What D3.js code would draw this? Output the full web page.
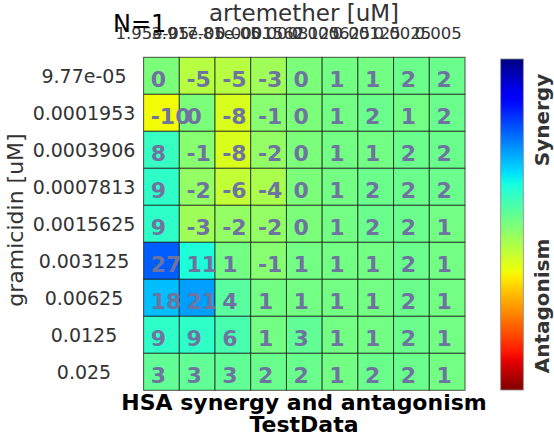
<!DOCTYPE html>
<html><head><meta charset="utf-8">
<script src="https://cdn.jsdelivr.net/npm/d3@7"></script>
<style>body{margin:0;background:#fff}svg{display:block}text{font-family:"DejaVu Sans",sans-serif}</style>
</head><body><svg id="c" width="554" height="437"></svg>
<script>
const artemether = ["1.95e-05","3.91e-05","7.81e-05","0.0001562","0.0003125","0.000625","0.00125","0.0025","0.005"];
const gramicidin = ["9.77e-05","0.0001953","0.0003906","0.0007813","0.0015625","0.003125","0.00625","0.0125","0.025"];
const row1 = [0,-5,-5,-3,0,1,1,2,2];
const row2 = [-10,0,-8,-1,0,1,2,1,2];
const row3 = [8,-1,-8,-2,0,1,1,2,2];
const row4 = [9,-2,-6,-4,0,1,2,2,2];
const row5 = [9,-3,-2,-2,0,1,2,2,1];
const row6 = [27,11,1,-1,1,1,1,2,1];
const row7 = [18,21,4,1,1,1,1,2,1];
const row8 = [9,9,6,1,3,1,1,2,1];
const row9 = [3,3,3,2,2,1,2,2,1];
const rows = [row1,row2,row3,row4,row5,row6,row7,row8,row9];

const svg = d3.select("#c");
const x = d3.scaleBand().domain(artemether).range([143.6, 465]);
const y = d3.scaleBand().domain(gramicidin).range([57.3, 390.3]);

// matplotlib jet
const R = d3.scaleLinear().domain([0,0.35,0.66,0.89,1]).range([0,0,1,1,0.5]).clamp(true);
const G = d3.scaleLinear().domain([0,0.125,0.375,0.64,0.91,1]).range([0,0,1,1,0,0]).clamp(true);
const B = d3.scaleLinear().domain([0,0.11,0.34,0.65,1]).range([0.5,1,1,0,0]).clamp(true);
const jet = t => d3.rgb(R(t)*255, G(t)*255, B(t)*255).toString();
const tScale = d3.scaleLinear().domain([-35, 0, 47.6]).range([1, 0.5, 0]).clamp(true);
const color = v => jet(tScale(v));

const cells = [];
rows.forEach((r,i)=>r.forEach((v,j)=>cells.push({g:gramicidin[i], a:artemether[j], v})));

svg.append("g").selectAll("rect").data(cells).join("rect")
  .attr("x", d=>x(d.a)).attr("y", d=>y(d.g))
  .attr("width", x.bandwidth()).attr("height", y.bandwidth())
  .attr("fill", d=>color(d.v))
  .attr("stroke", "#1a1a1a").attr("stroke-opacity", 0.75).attr("stroke-width", 1);

svg.append("g").selectAll("text").data(cells).join("text")
  .attr("x", d=>x(d.a) + x.bandwidth()*0.2).attr("y", d=>y(d.g) + 29.5)
  .attr("font-size", 22).attr("font-weight", "bold").attr("fill", "#6e73a0")
  .text(d=>String(d.v));

// top tick labels
svg.append("g").selectAll("text").data(artemether).join("text")
  .attr("x", d=>x(d)+x.bandwidth()/2 - 9).attr("y", 39)
  .attr("text-anchor","middle").attr("font-size",16.5).attr("fill","#333")
  .text(d=>d);
// left tick labels
svg.append("g").selectAll("text").data(gramicidin).join("text")
  .attr("x", 84).attr("y", d=>y(d)+y.bandwidth()/2+7)
  .attr("text-anchor","middle").attr("font-size",19).attr("fill","#333")
  .text(d=>d);

svg.append("text").attr("x",304).attr("y",21).attr("text-anchor","middle")
  .attr("font-size",23).attr("fill","#333").text("artemether [uM]");
svg.append("text").attr("transform","translate(23,220) rotate(-90)").attr("text-anchor","middle")
  .attr("font-size",22).attr("fill","#333").text("gramicidin [uM]");
svg.append("text").attr("x",113).attr("y",32).attr("font-size",24).attr("fill","#000").text("N=1");

svg.append("text").attr("x",304).attr("y",410).attr("text-anchor","middle")
  .attr("font-size",22).attr("font-weight","bold").attr("fill","#000").text("HSA synergy and antagonism");
svg.append("text").attr("x",304).attr("y",432).attr("text-anchor","middle")
  .attr("font-size",22).attr("font-weight","bold").attr("fill","#000").text("TestData");

// colorbar
const defs = svg.append("defs");
const grad = defs.append("linearGradient").attr("id","jet").attr("x1",0).attr("y1",0).attr("x2",0).attr("y2",1);
grad.selectAll("stop").data(d3.range(0,1.0001,0.02)).join("stop")
  .attr("offset", d=>d).attr("stop-color", d=>jet(d));
svg.append("rect").attr("x",500.7).attr("y",59).attr("width",22.6).attr("height",331)
  .attr("fill","url(#jet)").attr("stroke","#888").attr("stroke-width",0.8);
svg.append("text").attr("transform","translate(549,120) rotate(-90)").attr("text-anchor","middle")
  .attr("font-size",20).attr("font-weight","bold").attr("fill","#333").text("Synergy");
svg.append("text").attr("transform","translate(549,306) rotate(-90)").attr("text-anchor","middle")
  .attr("font-size",20).attr("font-weight","bold").attr("fill","#333").text("Antagonism");
</script></body></html>
